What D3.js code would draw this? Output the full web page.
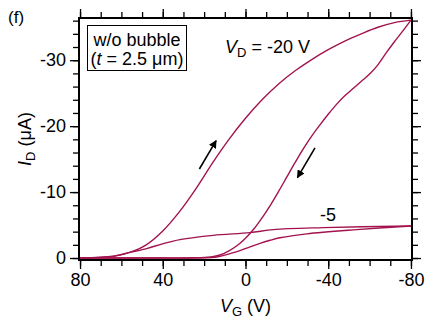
<!DOCTYPE html>
<html>
<head>
<meta charset="utf-8">
<script src="https://cdn.jsdelivr.net/npm/d3@7"></script>
<style>
  body { margin: 0; background: #fff; }
  text { font-family: "Liberation Sans", Arial, sans-serif; fill: #000; }
</style>
</head>
<body>
<div id="chart"></div>
<script>
// gate voltage (V) and drain current (uA)
// VD = -20 V, sweep from +80 to -80
var vgFwd20 = [80, 64, 56, 48, 40, 32, 24, 16, 8, 0, -8, -16, -24, -32, -40, -48, -56, -64, -72, -80];
var idFwd20 = [0, -0.25, -0.85, -2.0, -4.1, -7.0, -10.5, -14.4, -18.0, -21.2, -24.0, -26.4, -28.4, -30.1, -31.6, -32.9, -34.0, -35.0, -35.7, -36.07];
// VD = -20 V, sweep back from -80 to +80
var vgBwd20 = [-80, -76, -72, -68, -64, -60, -56, -52, -48, -44, -40, -36, -32, -28, -24, -20, -16, -12, -8, -4, 0, 4, 8, 12, 16, 20, 28, 50, 80];
var idBwd20 = [-36.07, -34.4, -32.8, -31.1, -29.3, -27.9, -26.8, -25.7, -24.6, -23.3, -21.8, -20.2, -18.5, -16.6, -14.5, -12.3, -10.1, -8.0, -6.1, -4.4, -3.0, -1.9, -1.1, -0.5, -0.2, -0.07, 0, 0, 0];
// VD = -5 V, both sweeps
var vgFwd5 = [80, 63.9, 55.8, 47.8, 39.7, 31.7, 15.6, -2.2, -13.5, -37.5, -80];
var idFwd5 = [0, -0.26, -0.86, -1.43, -2.19, -2.79, -3.44, -3.85, -4.31, -4.61, -4.86];
var vgBwd5 = [-80, -53.8, -29.6, -16.7, -11.9, -7.0, -2.2, 2.65, 7.5, 13.9, 22, 50, 80];
var idBwd5 = [-4.86, -4.31, -3.67, -3.07, -2.69, -2.23, -1.7, -1.12, -0.67, -0.15, -0.03, 0, 0];

var xMajor = [80, 40, 0, -40, -80];
var xMinor = d3.range(-80, 81, 10);
var yMajor = [0, -10, -20, -30];
var yMinor = d3.range(-36, 1, 2);

// arrows: [from VG, from ID, to VG, to ID]
var arrows = [[22.3, -13.5, 14.2, -17.8], [-33.6, -16.7, -25.1, -12.2]];

var curveColor = "#a3134f";

var margin = {top: 18, right: 16, bottom: 60, left: 79},
    width = 428 - margin.left - margin.right,
    height = 320 - margin.top - margin.bottom;

var svg = d3.select("#chart")
  .append("svg")
    .attr("width", 428)
    .attr("height", 320)
  .append("g")
    .attr("transform", "translate(" + margin.left + "," + margin.top + ")");

var x = d3.scaleLinear().domain([80.5, -80.5]).range([0, width]);
var y = d3.scaleLinear().domain([0.3, -36.4]).range([height, 0]);

// frame
svg.append("rect")
  .attr("width", width).attr("height", height)
  .attr("fill", "none").attr("stroke", "#000").attr("stroke-width", 2);

function tickAxis(axis, vals, size, labels) {
  return axis.tickValues(vals).tickSize(size).tickPadding(4)
    .tickFormat(labels ? d3.format("d") : "");
}

function addAxis(transform, axisFn, scale) {
  var gMin = svg.append("g").attr("transform", transform)
    .call(tickAxis(axisFn(scale), scale === x ? xMinor : yMinor, 6, false));
  var gMaj = svg.append("g").attr("transform", transform)
    .call(tickAxis(axisFn(scale), scale === x ? xMajor : yMajor, 9, true));
  [gMin, gMaj].forEach(function(g) {
    g.select(".domain").remove();
    g.selectAll(".tick line").attr("stroke", "#000").attr("stroke-width", 1.3);
    g.selectAll(".tick text").style("font-size", "18px")
      .style("font-family", "'Liberation Sans', Arial, sans-serif");
  });
  return gMaj;
}

addAxis("translate(0," + height + ")", d3.axisBottom, x);
addAxis("translate(0,0)", d3.axisLeft, y);
addAxis("translate(0,0)", d3.axisTop, x).selectAll(".tick text").remove();
addAxis("translate(" + width + ",0)", d3.axisRight, y).selectAll(".tick text").remove();

// minus sign as a hyphen, matching the picture
svg.selectAll("text").each(function() {
  var t = d3.select(this);
  t.text(t.text().replace("\u2212", "-"));
});

var line = d3.line()
  .curve(d3.curveCatmullRom.alpha(0.5))
  .x(function(d) { return x(d[0]); })
  .y(function(d) { return y(d[1]); });

[[vgFwd20, idFwd20], [vgBwd20, idBwd20], [vgFwd5, idFwd5], [vgBwd5, idBwd5]].forEach(function(s) {
  svg.append("path")
    .datum(d3.zip(s[0], s[1]))
    .attr("fill", "none")
    .attr("stroke", curveColor)
    .attr("stroke-width", 1.4)
    .attr("stroke-linejoin", "round")
    .attr("d", line);
});

// arrow heads
svg.append("defs").append("marker")
  .attr("id", "head")
  .attr("viewBox", "0 0 10 10")
  .attr("refX", 9).attr("refY", 5)
  .attr("markerWidth", 5).attr("markerHeight", 5)
  .attr("markerUnits", "strokeWidth")
  .attr("orient", "auto")
  .append("path").attr("d", "M0,0L10,5L0,10z").attr("fill", "#000");

arrows.forEach(function(a) {
  svg.append("line")
    .attr("x1", x(a[0])).attr("y1", y(a[1]))
    .attr("x2", x(a[2])).attr("y2", y(a[3]))
    .attr("stroke", "#000").attr("stroke-width", 1.6)
    .attr("marker-end", "url(#head)");
});

// legend box
svg.append("rect")
  .attr("x", 8.5).attr("y", 7.5).attr("width", 99).attr("height", 45)
  .attr("fill", "#fff").attr("stroke", "#000").attr("stroke-width", 1);
svg.append("text").attr("x", 58).attr("y", 28).attr("text-anchor", "middle")
  .style("font-size", "18px").text("w/o bubble");
var t2 = svg.append("text").attr("x", 58).attr("y", 47).attr("text-anchor", "middle")
  .style("font-size", "18px");
t2.append("tspan").text("(");
t2.append("tspan").style("font-style", "italic").text("t");
t2.append("tspan").text(" = 2.5 \u03bcm)");

// curve labels
var vd = svg.append("text").attr("x", 146).attr("y", 35).style("font-size", "18px");
vd.append("tspan").style("font-style", "italic").text("V");
vd.append("tspan").attr("dy", 4).style("font-size", "13px").text("D");
vd.append("tspan").attr("dy", -4).text(" = -20 V");

svg.append("text").attr("x", x(-36)).attr("y", y(-5.6)).style("font-size", "18px").text("-5");

// panel tag
svg.append("text").attr("x", -71).attr("y", 5).style("font-size", "17px").text("(f)");

// axis labels
var xl = svg.append("text")
  .attr("x", width / 2).attr("y", height + 52)
  .attr("text-anchor", "middle").style("font-size", "18px");
xl.append("tspan").style("font-style", "italic").text("V");
xl.append("tspan").attr("dy", 4).style("font-size", "13px").text("G");
xl.append("tspan").attr("dy", -4).text(" (V)");

var yl = svg.append("text")
  .attr("transform", "rotate(-90)")
  .attr("x", -height / 2).attr("y", -48)
  .attr("text-anchor", "middle").style("font-size", "18px");
yl.append("tspan").style("font-style", "italic").text("I");
yl.append("tspan").attr("dy", 4).style("font-size", "13px").text("D");
yl.append("tspan").attr("dy", -4).text(" (\u03bcA)");
</script>
</body>
</html>
